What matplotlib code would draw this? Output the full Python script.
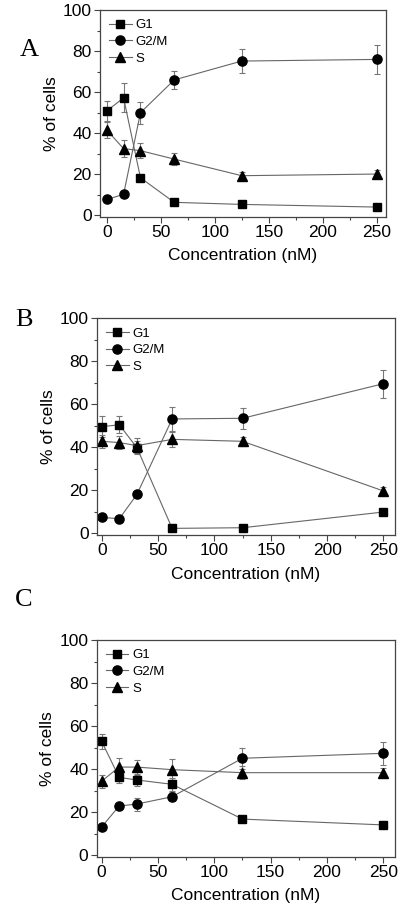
import matplotlib
matplotlib.use("Agg")
import matplotlib.pyplot as plt
from matplotlib.ticker import MultipleLocator

plt.rcParams['font.family'] = ['Liberation Sans', 'DejaVu Sans']

conc = [0, 15.625, 31.25, 62.5, 125, 250]

# panel A
a_g1 = [50.7, 57.2, 18.2, 6.2, 5.2, 3.9]
a_g1_err = [5, 7, 1.5, 1, 1, 1]
a_g2m = [7.6, 10.1, 49.9, 65.9, 75.1, 75.9]
a_g2m_err = [1, 1, 5.4, 4.5, 5.7, 7]
a_s = [41.5, 32.4, 31.4, 27.3, 19.2, 20.0]
a_s_err = [4, 4, 3.5, 3, 2, 2]

# panel B
b_g1 = [49.6, 50.5, 39.8, 2.3, 2.6, 9.9]
b_g1_err = [5, 4, 3, 0.5, 0.5, 1]
b_g2m = [7.4, 6.8, 18.1, 53.2, 53.5, 69.6]
b_g2m_err = [1, 1, 1, 5.5, 5, 6.5]
b_s = [42.8, 42.2, 40.8, 43.7, 42.8, 19.7]
b_s_err = [3, 3, 3.5, 3.5, 2, 2]

# panel C
c_g1 = [53.0, 36.1, 34.9, 32.9, 16.7, 14.0]
c_g1_err = [3.5, 2.5, 3, 3, 1.5, 1]
c_g2m = [13.0, 22.8, 23.7, 27.1, 45.0, 47.3]
c_g2m_err = [1, 2, 3, 2, 5, 5.5]
c_s = [34.3, 40.9, 40.9, 39.7, 38.3, 38.3]
c_s_err = [3, 4, 3.5, 5, 3, 2]

panels = [
    ("A", [0.25, 0.7616, 0.715, 0.2274], (-6.2, 258.6), (-0.8, 100),
     (a_g1, a_g1_err), (a_g2m, a_g2m_err), (a_s, a_s_err), (0.05, 0.945)),
    ("B", [0.2425, 0.4114, 0.745, 0.2384], (-4.2, 260.3), (-0.8, 100),
     (b_g1, b_g1_err), (b_g2m, b_g2m_err), (b_s, b_s_err), (0.0375, 0.648)),
    ("C", [0.242, 0.0575, 0.7455, 0.2384], (-4.2, 260.3), (-0.8, 100),
     (c_g1, c_g1_err), (c_g2m, c_g2m_err), (c_s, c_s_err), (0.0375, 0.340)),
]

fig = plt.figure(figsize=(4, 9.09), dpi=100)

for letter, rect, xl, yl, g1, g2m, s, lpos in panels:
    ax = fig.add_axes(rect)
    for (vals, errs), mk, ms, lab in [(g1, 's', 5.6, 'G1'), (g2m, 'o', 6.6, 'G2/M'),
                                      (s, '^', 7.2, 'S')]:
        ax.errorbar(conc, vals, yerr=errs, fmt='none', ecolor='#777777',
                    elinewidth=0.8, capsize=2.5, capthick=0.8, zorder=1)
        ax.plot(conc, vals, color='#666666', lw=0.8, marker=mk, ms=ms,
                mfc='black', mec='black', label=lab, zorder=2)
    ax.set_xlim(*xl)
    ax.set_ylim(*yl)
    ax.xaxis.set_major_locator(MultipleLocator(50))
    ax.xaxis.set_minor_locator(MultipleLocator(25))
    ax.yaxis.set_major_locator(MultipleLocator(20))
    ax.yaxis.set_minor_locator(MultipleLocator(10))
    ax.tick_params(which='both', direction='out', top=False, right=False,
                   labelsize=12.5, width=0.8, color='#444444', pad=2)
    ax.tick_params(which='major', length=4)
    ax.tick_params(which='minor', length=2.5)
    for sp in ax.spines.values():
        sp.set_color('#444444')
        sp.set_linewidth(0.9)
    ax.set_xlabel('Concentration (nM)', fontsize=12.5, labelpad=6)
    ax.set_ylabel('% of cells', fontsize=12.5, labelpad=3)
    ax.legend(loc='upper left', frameon=False, fontsize=9.5, handlelength=1.7,
              handletextpad=0.3, labelspacing=0.33, borderaxespad=0.5,
              borderpad=0.2)
    fig.text(lpos[0], lpos[1], letter, fontsize=19, family='Liberation Serif',
             ha='left', va='center')

fig.savefig('out.png', dpi=100)
